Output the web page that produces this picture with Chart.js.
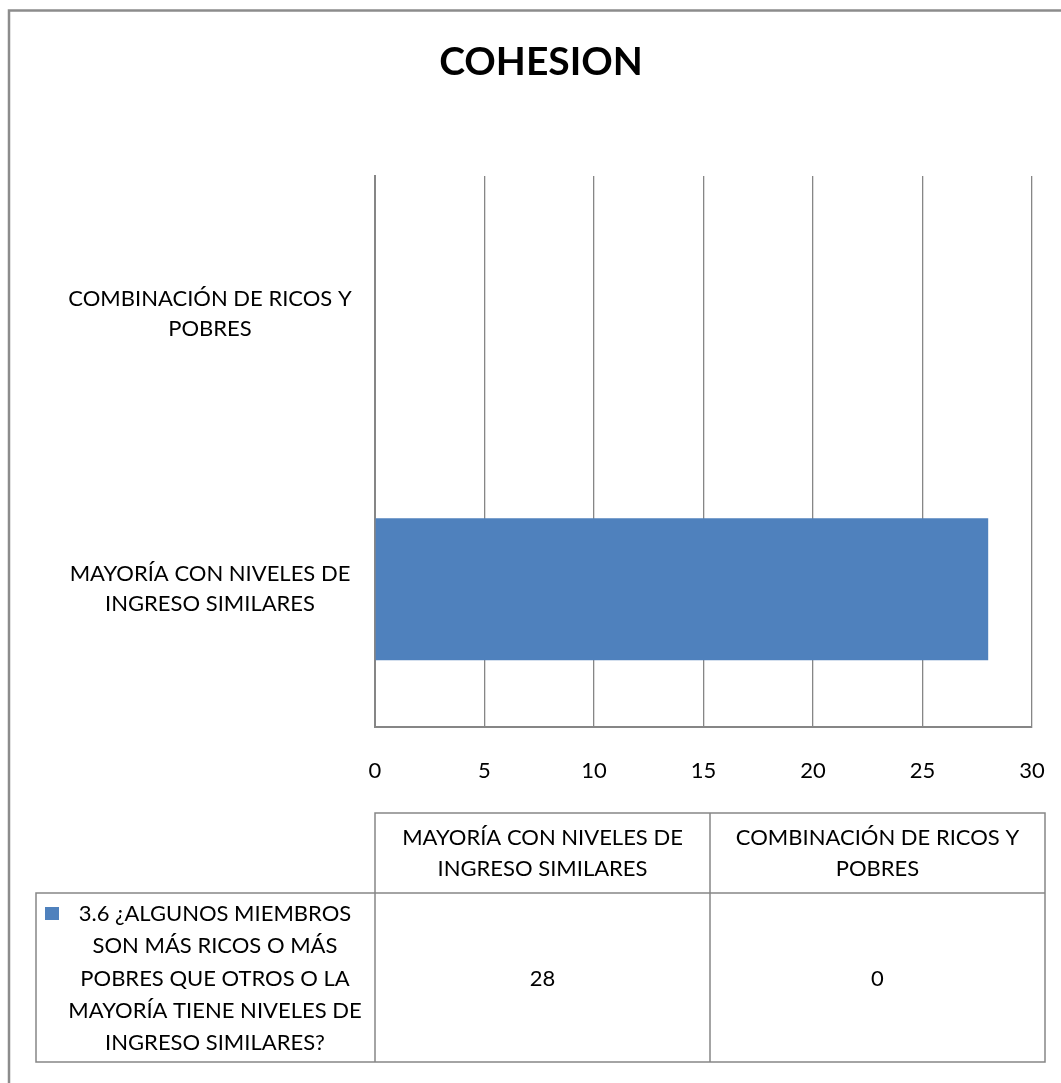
<!DOCTYPE html>
<html>
<head>
<meta charset="utf-8">
<script src="https://cdn.jsdelivr.net/npm/chart.js@4/dist/chart.umd.min.js"></script>
<style>
  html, body { margin: 0; padding: 0; background: #fff; }
  #wrap { position: relative; width: 1061px; height: 1083px; }
</style>
</head>
<body>
<div id="wrap"><canvas id="c" width="1061" height="1083"></canvas></div>
<script>
// ---- data ----
const chartTitle = "COHESION";
const categories = [
  ["MAYORÍA CON NIVELES DE", "INGRESO SIMILARES"],
  ["COMBINACIÓN DE RICOS Y", "POBRES"]
];
const seriesName = [
  "3.6 ¿ALGUNOS MIEMBROS",
  "SON MÁS RICOS O MÁS",
  "POBRES QUE OTROS O LA",
  "MAYORÍA TIENE NIVELES DE",
  "INGRESO SIMILARES?"
];
const seriesValues = [28, 0];
const xTicks = [0, 5, 10, 15, 20, 25, 30];

const FONT = "Lato, 'Open Sans', sans-serif";
const LBL_SIZE = 22;
const BAR_COLOR = "#4F81BD";
const LINE_COLOR = "#868686";
const PAD_LEFT = 21;

// measure widest category line to center labels at x~210
const mctx = document.createElement('canvas').getContext('2d');
mctx.font = LBL_SIZE + "px " + FONT;
let widest = 0;
categories.forEach(c => c.forEach(l => { widest = Math.max(widest, mctx.measureText(l).width); }));
const yPad = Math.max(2, 375 - 210 - widest / 2);

const tablePlugin = {
  id: 'dataTable',
  afterDraw(chart) {
    const ctx = chart.ctx;
    const left = chart.chartArea.left;      // 375
    const colW = 335;
    const hdrTop = 813, hdrBot = 893, rowBot = 1062, legLeft = 36;
    ctx.save();
    // outer border
    ctx.strokeStyle = "#8c8c8c";
    ctx.lineWidth = 2.5;
    ctx.beginPath();
    ctx.moveTo(9, 1090); ctx.lineTo(9, 10.5); ctx.lineTo(1070, 10.5);
    ctx.stroke();

    ctx.strokeStyle = LINE_COLOR;
    ctx.lineWidth = 1.5;
    ctx.beginPath();
    ctx.rect(left, hdrTop, colW * categories.length, hdrBot - hdrTop);
    ctx.rect(legLeft, hdrBot, left - legLeft + colW * categories.length, rowBot - hdrBot);
    for (let i = 0; i <= categories.length; i++) {
      ctx.moveTo(left + colW * i, hdrTop);
      ctx.lineTo(left + colW * i, rowBot);
    }
    ctx.stroke();

    ctx.fillStyle = "#000";
    ctx.font = LBL_SIZE + "px " + FONT;
    ctx.textAlign = "center";
    ctx.textBaseline = "middle";
    categories.forEach((lines, i) => {
      const cx = left + colW * i + colW / 2;
      lines.forEach((l, j) => ctx.fillText(l, cx, 838 + j * 31));
    });
    seriesValues.forEach((v, i) => {
      const cx = left + colW * i + colW / 2;
      ctx.fillText(String(v), cx, 979);
    });
    ctx.fillStyle = BAR_COLOR;
    ctx.fillRect(45, 907, 14, 13);
    ctx.fillStyle = "#000";
    seriesName.forEach((l, j) => ctx.fillText(l, 215, 914 + j * 32.3));
    ctx.restore();
  }
};

new Chart(document.getElementById('c'), {
  type: 'bar',
  data: {
    labels: categories,
    datasets: [{
      label: seriesName.join(" "),
      data: seriesValues,
      backgroundColor: BAR_COLOR,
      borderWidth: 0,
      categoryPercentage: 1,
      barPercentage: 0.515
    }]
  },
  options: {
    indexAxis: 'y',
    responsive: false,
    animation: false,
    layout: { padding: { left: PAD_LEFT, right: 0, top: 0, bottom: 0 } },
    plugins: {
      legend: { display: false },
      tooltip: { enabled: false },
      title: {
        display: true,
        text: chartTitle,
        color: "#000",
        font: { family: FONT, size: 39, weight: 'bold', lineHeight: 1.2 },
        padding: { top: 38.6, bottom: 90.6 }
      }
    },
    scales: {
      x: {
        min: 0, max: 30,
        afterBuildTicks(scale) { scale.ticks = xTicks.map(v => ({ value: v })); },
        afterFit(scale) {
          scale.height = 1083 - 727;
          scale.paddingLeft = 0;
          scale.paddingRight = 29;
        },
        grid: { color: LINE_COLOR, lineWidth: 1.3, drawTicks: false },
        border: { display: true, color: LINE_COLOR, width: 2 },
        ticks: { color: "#000", padding: 31, maxRotation: 0, font: { family: FONT, size: LBL_SIZE } }
      },
      y: {
        reverse: true,
        afterFit(scale) { scale.width = 375 - PAD_LEFT; },
        grid: { display: false, drawTicks: false },
        border: { display: true, color: LINE_COLOR, width: 2 },
        ticks: { color: "#000", crossAlign: 'center', padding: yPad, font: { family: FONT, size: LBL_SIZE, lineHeight: 1.36 } }
      }
    }
  },
  plugins: [tablePlugin]
});
</script>
</body>
</html>
